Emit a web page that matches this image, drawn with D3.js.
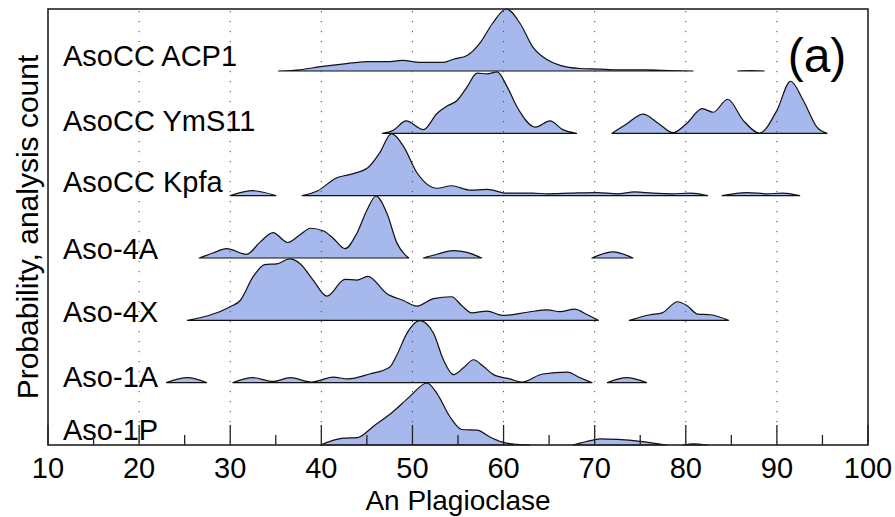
<!DOCTYPE html>
<html>
<head>
<meta charset="utf-8">
<script src="https://cdn.jsdelivr.net/npm/d3@7"></script>
<style>
  html, body { margin: 0; padding: 0; background: #fff; }
  svg { display: block; font-family: "Liberation Sans", Arial, Helvetica, sans-serif; }
</style>
</head>
<body>
<div id="chart"></div>
<script>
// Sample names, top to bottom
const samples = ['AsoCC ACP1', 'AsoCC YmS11', 'AsoCC Kpfa', 'Aso-4A', 'Aso-4X', 'Aso-1A', 'Aso-1P']

// Normalised probability curves [An, relative density], one list per separate segment
const acp1 = [
  [[35.3, 0], [37.7, 0.02], [39.9, 0.07], [42.8, 0.12], [45.3, 0.15], [47.2, 0.15], [48.9, 0.17], [50.8, 0.14],
   [53.4, 0.14], [54.5, 0.19], [56.0, 0.25], [57.4, 0.45], [58.8, 0.77], [60.3, 1.0], [61.8, 0.77], [63.2, 0.39],
   [64.8, 0.18], [66.2, 0.09], [68.4, 0.04], [70.6, 0.03], [72.0, 0.02], [75.7, 0.02], [77.5, 0.01], [80.8, 0]],
  [[85.7, 0], [87.1, 0.005], [88.6, 0]]
]
const ymS11 = [
  [[46.7, 0], [47.9, 0.05], [49.3, 0.2], [51.2, 0.06], [52.7, 0.32], [53.8, 0.44], [54.9, 0.53], [56.0, 0.75],
   [57.1, 0.97], [58.2, 0.96], [59.3, 0.99], [60.4, 0.75], [61.5, 0.42], [63.5, 0.1], [65.1, 0.2], [66.5, 0.06], [68.0, 0]],
  [[71.9, 0], [73.5, 0.15], [75.3, 0.31], [77.0, 0.16], [78.6, 0.01], [80.1, 0.16], [81.8, 0.4], [83.0, 0.34],
   [84.6, 0.55], [86.3, 0.21], [88.1, 0.005], [90.0, 0.37], [91.5, 0.84], [92.9, 0.53], [94.4, 0.1], [95.5, 0]]
]
const kpfa = [
  [[30.0, 0], [32.5, 0.08], [35.0, 0]],
  [[37.9, 0], [39.5, 0.07], [41.7, 0.29], [43.1, 0.34], [45.1, 0.45], [46.4, 0.69], [47.7, 1.0], [49.0, 0.8],
   [50.5, 0.37], [52.7, 0.12], [54.3, 0.16], [56.3, 0.09], [58.2, 0.1], [60.4, 0.04], [63.2, 0.04], [64.8, 0.03],
   [67.3, 0.04], [70.2, 0.05], [72.5, 0.03], [74.4, 0.06], [76.4, 0.04], [78.5, 0.03], [80.5, 0.04], [82.4, 0]],
  [[84.0, 0], [86.7, 0.05], [88.9, 0.03], [90.6, 0.04], [92.5, 0]]
]
const aso4A = [
  [[26.6, 0], [28.1, 0.08], [29.6, 0.15], [31.8, 0.06], [33.3, 0.26], [34.7, 0.41], [36.3, 0.25], [37.7, 0.38],
   [38.8, 0.48], [40.2, 0.44], [41.3, 0.32], [42.6, 0.15], [43.9, 0.4], [45.0, 0.77], [46.0, 1.0], [47.2, 0.72],
   [48.3, 0.24], [49.2, 0.05], [49.6, 0]],
  [[51.2, 0], [52.7, 0.06], [54.5, 0.12], [56.0, 0.09], [57.6, 0]],
  [[69.7, 0], [72.0, 0.1], [74.2, 0]]
]
const aso4X = [
  [[25.3, 0], [30.0, 0.22], [31.1, 0.32], [32.5, 0.7], [33.8, 0.9], [35.1, 0.91], [36.5, 0.99], [37.7, 0.91],
   [39.1, 0.65], [40.6, 0.39], [42.6, 0.66], [43.9, 0.65], [45.1, 0.71], [47.2, 0.43], [49.0, 0.32], [50.5, 0.23],
   [52.3, 0.35], [54.3, 0.38], [55.4, 0.24], [56.5, 0.12], [58.2, 0.15], [59.9, 0.08], [62.6, 0.13], [64.8, 0.17],
   [66.2, 0.14], [67.8, 0.18], [69.2, 0.09], [70.4, 0]],
  [[73.8, 0], [76.1, 0.09], [77.4, 0.12], [79.1, 0.3], [80.2, 0.23], [81.3, 0.1], [82.7, 0.09], [84.7, 0]]
]
const aso1A = [
  [[23.0, 0], [25.3, 0.08], [27.4, 0]],
  [[30.3, 0], [32.5, 0.08], [34.7, 0.02], [36.6, 0.08], [38.9, 0.01], [41.3, 0.09], [42.9, 0.06], [45.3, 0.14],
   [47.5, 0.25], [48.3, 0.45], [49.4, 0.8], [50.8, 1.0], [52.3, 0.8], [53.4, 0.37], [54.5, 0.13], [55.6, 0.24],
   [56.7, 0.37], [57.8, 0.26], [58.9, 0.13], [60.7, 0.06], [62.0, 0.01], [64.3, 0.14], [67.0, 0.17], [68.4, 0.08], [69.7, 0]],
  [[71.4, 0], [73.5, 0.08], [75.7, 0]]
]
const aso1P = [
  [[39.9, 0], [42.4, 0.11], [44.0, 0.12], [45.7, 0.3], [47.9, 0.54], [49.7, 0.78], [51.6, 1.0], [52.7, 0.83],
   [54.1, 0.46], [55.4, 0.25], [57.1, 0.24], [58.5, 0.13], [59.8, 0.05], [61.5, 0.01], [62.9, 0]],
  [[67.6, 0], [69.8, 0.08], [70.6, 0.1], [72.5, 0.09], [75.0, 0.06], [77.9, 0]],
  [[79.7, 0], [80.8, 0.02], [82.4, 0]]
]
const densities = [acp1, ymS11, kpfa, aso4A, aso4X, aso1A, aso1P]

const xTicks = [10, 20, 30, 40, 50, 60, 70, 80, 90, 100]
const xMinorTicks = [15, 25, 35, 45, 55, 65, 75, 85, 95]
const gridTicks = [20, 30, 40, 50, 60, 70, 80, 90]

// layout
const W = 895, H = 517
const m = { left: 48, right: 868, top: 9, bottom: 445 }
const ridgeH = 62
const labelNudge = [-5, -2, -4, 1, 2, 4, -5]
const fillColor = '#a7b8ec'

const svg = d3.select('#chart').append('svg')
  .attr('width', W).attr('height', H)

const x = d3.scaleLinear().domain([10, 100]).range([m.left, m.right])
const y = d3.scalePoint().domain(samples).range([71, m.bottom])
const h = d3.scaleLinear().domain([0, 1]).range([0, ridgeH])

// ridges, drawn from the bottom up so upper baselines sit on top
const area = d3.area().curve(d3.curveMonotoneX).x(d => x(d[0]))
samples.slice().reverse().forEach(name => {
  const segs = densities[samples.indexOf(name)]
  const base = y(name)
  area.y0(base).y1(d => base - h(d[1]))
  svg.append('g').selectAll('path').data(segs).join('path')
    .attr('d', d => area(d) + 'Z')
    .attr('fill', fillColor)
    .attr('stroke', '#111')
    .attr('stroke-width', 1.2)
    .attr('stroke-linejoin', 'round')
})

// labels
svg.append('g').selectAll('text').data(samples).join('text')
  .attr('x', 63)
  .attr('y', (d, i) => y(d) + labelNudge[i])
  .style('font-size', '29px')
  .attr('fill', '#000')
  .text(d => d)

// dotted grid
svg.append('g').selectAll('line').data(gridTicks).join('line')
  .attr('x1', d => x(d)).attr('x2', d => x(d))
  .attr('y1', m.top + 2).attr('y2', m.bottom)
  .attr('stroke', '#444').attr('stroke-width', 1)
  .attr('stroke-dasharray', '1.2,8.8')

// inward ticks on the bottom axis
svg.append('g').selectAll('line').data(xTicks).join('line')
  .attr('x1', d => x(d)).attr('x2', d => x(d))
  .attr('y1', m.bottom).attr('y2', m.bottom - 20)
  .attr('stroke', '#222').attr('stroke-width', 1.3)
svg.append('g').selectAll('line').data(xMinorTicks).join('line')
  .attr('x1', d => x(d)).attr('x2', d => x(d))
  .attr('y1', m.bottom).attr('y2', m.bottom - 10)
  .attr('stroke', '#222').attr('stroke-width', 1.3)

// frame
svg.append('rect')
  .attr('x', m.left).attr('y', m.top)
  .attr('width', m.right - m.left).attr('height', m.bottom - m.top)
  .attr('fill', 'none').attr('stroke', '#222').attr('stroke-width', 1.6)

// tick labels
svg.append('g').selectAll('text').data(xTicks).join('text')
  .attr('x', d => x(d)).attr('y', 478)
  .attr('text-anchor', 'middle')
  .style('font-size', '29px')
  .text(d => d)

svg.append('text')
  .attr('x', (m.left + m.right) / 2).attr('y', 510)
  .attr('text-anchor', 'middle')
  .style('font-size', '28px')
  .text('An Plagioclase')

svg.append('text')
  .attr('transform', `translate(38,${(m.top + m.bottom) / 2}) rotate(-90)`)
  .attr('text-anchor', 'middle')
  .style('font-size', '30px')
  .text('Probability, analysis count')

svg.append('text')
  .attr('x', 817).attr('y', 72)
  .attr('text-anchor', 'middle')
  .style('font-size', '48px')
  .text('(a)')
</script>
</body>
</html>
